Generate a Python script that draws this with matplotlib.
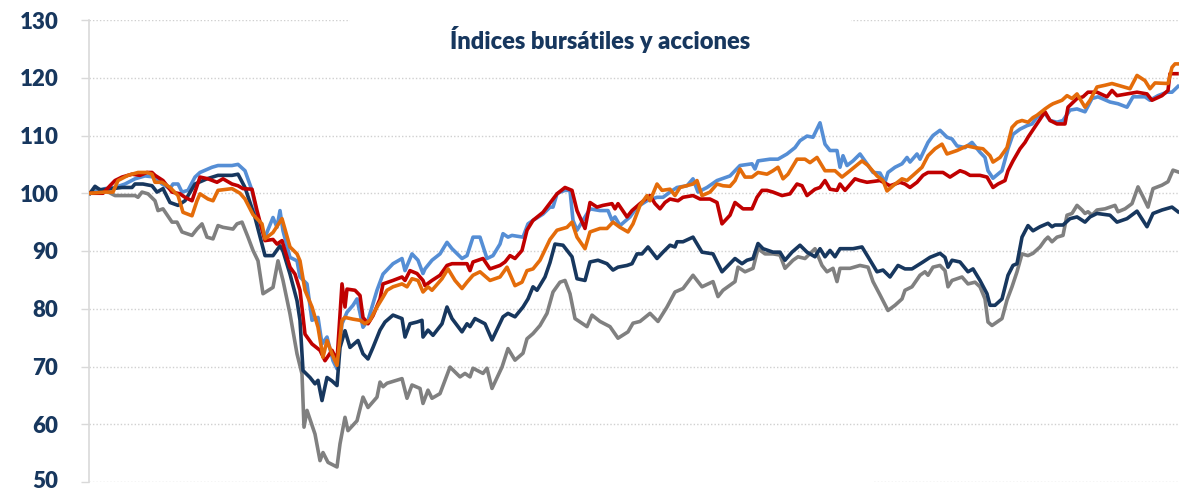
import matplotlib.pyplot as plt
from matplotlib.patches import Rectangle
from matplotlib.transforms import ScaledTranslation

# observation positions (arbitrary time units) and index values (base 100)
x_celeste = [90, 105, 115, 125, 135, 145, 155, 162, 170, 173, 178, 182, 188, 195, 200, 212, 218, 232, 238, 245,
             252, 258, 265, 273, 277, 280, 283, 290, 297, 300, 307, 312, 318, 322, 327, 333, 337, 342, 347, 353,
             357, 363, 368, 377, 383, 393, 402, 405, 412, 418, 423, 425, 432, 440, 447, 452, 462, 467, 473, 480,
             487, 493, 500, 503, 508, 512, 523, 528, 533, 543, 550, 553, 557, 560, 565, 570, 573, 577, 583, 590,
             600, 608, 612, 615, 620, 630, 637, 647, 657, 663, 670, 677, 687, 693, 698, 707, 717, 730, 740, 752,
             755, 758, 770, 778, 787, 795, 800, 807, 813, 820, 825, 830, 837, 840, 843, 847, 853, 860, 867, 873,
             880, 885, 888, 895, 902, 907, 910, 917, 920, 928, 933, 940, 947, 952, 957, 965, 972, 980, 985, 988,
             993, 1002, 1008, 1013, 1020, 1027, 1032, 1037, 1045, 1050, 1057, 1063, 1070, 1077, 1085, 1092, 1098,
             1110, 1118, 1127, 1133, 1145, 1150, 1158, 1167, 1172, 1178]
y_celeste = [100, 100.8, 101, 101.6, 102.5, 103, 102.8, 101.6, 100.8, 101.6, 101.6, 100.2, 100.5, 102.8, 103.6,
             104.5, 104.8, 104.8, 105, 103.9, 100.5, 95.5, 92.4, 95.8, 94.1, 97, 93.5, 88.9, 88.3, 85.5, 84.3, 78,
             78.5, 73.9, 75.1, 71, 69.6, 77.4, 79.4, 80.6, 81.7, 76.8, 78, 83.2, 86, 87.8, 88.7, 86.6, 89.5, 88.4,
             86.1, 86.9, 88.4, 89.5, 91.5, 90.4, 88.7, 89.2, 92.4, 92.4, 88.7, 89.2, 91.2, 93, 92.4, 92.7, 92.4,
             94.7, 95.3, 96.4, 97.6, 97.6, 99.9, 100.2, 100.5, 100.5, 95.3, 93.6, 95.3, 97.3, 97, 97, 95.3, 95.9,
             94.4, 95.9, 97.6, 98.7, 99.3, 99.3, 100.2, 101, 101.3, 102.5, 100.2, 101, 102.2, 103, 104.8, 105.1,
             104.2, 105.6, 105.9, 105.9, 106.8, 107.9, 109.1, 109.9, 109.7, 112.2, 108.5, 107.4, 107.4, 104.5,
             106.5, 104.8, 105.6, 106.8, 105.1, 103.6, 103.5, 101.9, 103.6, 104.5, 105.1, 106.2, 105.4, 106.8,
             105.9, 108.8, 110, 110.9, 109.7, 109.4, 108.2, 107.9, 108.8, 107.1, 106.2, 103.9, 102.6, 103.9,
             107.7, 110.2, 111.1, 111.7, 112, 113.2, 113.8, 112.6, 112.3, 112.6, 114.4, 114.6, 114.1, 116.4,
             116.7, 115.8, 115.5, 114.9, 116.7, 116.7, 116.1, 116.9, 117.5, 117.5, 118.5]

x_marino = [90, 95, 100, 112, 122, 132, 135, 143, 152, 157, 163, 170, 178, 185, 195, 207, 218, 232, 238, 245, 255,
            265, 273, 280, 283, 290, 297, 300, 303, 310, 315, 318, 322, 327, 332, 337, 340, 345, 350, 358, 363,
            368, 373, 380, 385, 393, 402, 405, 410, 417, 422, 423, 428, 433, 442, 447, 452, 462, 467, 470, 475,
            485, 492, 503, 508, 515, 523, 528, 533, 537, 545, 550, 555, 563, 572, 577, 585, 590, 598, 607, 613,
            618, 627, 632, 637, 642, 648, 657, 663, 670, 675, 677, 683, 693, 702, 713, 722, 735, 742, 747, 753,
            758, 763, 773, 780, 785, 792, 800, 807, 815, 820, 825, 830, 835, 840, 853, 862, 868, 877, 883, 890,
            898, 905, 912, 923, 930, 940, 945, 948, 952, 960, 968, 973, 980, 987, 990, 995, 1002, 1008, 1013,
            1017, 1022, 1028, 1033, 1040, 1048, 1052, 1055, 1063, 1070, 1077, 1085, 1090, 1097, 1110, 1117, 1127,
            1137, 1147, 1153, 1162, 1172, 1178]
y_marino = [100, 101.2, 100.6, 100.8, 101, 101, 101.6, 101.6, 101.3, 100.2, 100.8, 98.4, 97.9, 98.7, 101.6, 102.5,
            103.1, 103.1, 103.3, 101, 95.8, 89.2, 89.2, 90.9, 90, 86, 81.4, 78, 69.3, 68.1, 67, 67.6, 64.1, 68.1,
            67.5, 66.7, 73.3, 76.2, 73.3, 74.5, 72.2, 71.3, 73.3, 76.3, 77.7, 78.9, 78.3, 75.1, 77.4, 77.7, 78,
            75.1, 76.3, 75.4, 77.4, 80.3, 78.3, 76, 77.4, 76.9, 78.3, 77.4, 74.6, 78.6, 79.2, 78.6, 80.3, 81.7,
            83.8, 83.2, 85.5, 88, 91.2, 91, 89, 85.2, 84.9, 88.1, 88.4, 87.8, 86.7, 87.2, 87.5, 87.8, 89.5, 89.5,
            90.7, 88.7, 89.8, 91, 90.7, 91.6, 91.6, 92.4, 89.8, 89.5, 86.4, 88.7, 87.8, 88.4, 88.7, 91.3, 90.4,
            89.8, 89.8, 88.4, 89.8, 91, 89.8, 89, 90.4, 89, 90.1, 89, 90.4, 90.4, 90.7, 89, 86.4, 86.7, 85.5, 87.5,
            86.9, 86.9, 88.1, 88.9, 89.6, 88.9, 87.2, 88.4, 88.1, 86.4, 86.9, 84.9, 82.6, 80.6, 80.6, 81.7, 85.8,
            87.5, 87.8, 92.4, 94.4, 93.5, 94.2, 94.8, 94.2, 94.5, 94.5, 95.6, 95.9, 95, 95.9, 96.5, 96.2, 95, 95.6,
            96.9, 94.2, 96.5, 97.1, 97.6, 96.8]

x_rojo = [90, 103, 110, 115, 122, 132, 140, 147, 152, 155, 163, 172, 180, 185, 192, 200, 208, 217, 223, 232, 238,
          243, 252, 257, 265, 273, 277, 282, 290, 295, 300, 305, 312, 320, 325, 332, 337, 340, 342, 345, 347, 355,
          360, 363, 368, 373, 380, 383, 393, 402, 405, 410, 417, 423, 425, 432, 440, 447, 452, 467, 470, 473, 483,
          490, 500, 505, 510, 515, 522, 527, 533, 543, 550, 557, 565, 572, 577, 585, 590, 597, 603, 612, 615, 618,
          627, 632, 640, 650, 655, 660, 665, 670, 678, 683, 693, 700, 710, 717, 722, 730, 735, 743, 752, 757, 762,
          767, 773, 782, 790, 797, 802, 807, 815, 820, 825, 830, 837, 840, 845, 855, 860, 867, 880, 890, 900, 905,
          910, 917, 923, 928, 935, 943, 950, 960, 965, 970, 980, 987, 993, 998, 1005, 1008, 1013, 1020, 1025,
          1028, 1033, 1038, 1045, 1050, 1057, 1065, 1068, 1077, 1083, 1088, 1097, 1107, 1112, 1117, 1127, 1137,
          1147, 1152, 1162, 1168, 1170, 1177]
y_rojo = [100, 100, 101.3, 102.2, 102.8, 103.3, 103.1, 103.6, 103.6, 103.1, 102.2, 100.2, 99.9, 99.3, 98.7, 102.8,
          102.5, 101.9, 102.5, 101.6, 101.3, 100.8, 100.7, 97, 91.8, 92, 91.2, 91.8, 87.2, 86, 83.2, 75.6, 73.9,
          72.8, 71, 72.8, 71, 79.1, 84.3, 80.3, 83.4, 83.2, 82.3, 78.5, 77.4, 78.8, 81.7, 84.3, 84.9, 85.5, 84.9,
          86.6, 86.1, 84.9, 84, 84.9, 85.8, 87.5, 87.8, 87.8, 86.6, 88.1, 88.7, 86.9, 87.5, 88.1, 89.2, 88.7, 90.1,
          93.6, 95.3, 96.7, 98.3, 99.9, 101, 100.5, 97, 93.9, 98.4, 97.6, 97.9, 98.2, 97.3, 98.2, 95.9, 97, 98.2,
          99.6, 98.2, 97.3, 98.4, 99, 98.7, 99.3, 99.6, 99, 99, 98.4, 94.7, 96.2, 98.4, 97.3, 97.3, 99.3, 100.5,
          100.5, 100.2, 99.6, 99.9, 101.6, 101.3, 99.6, 100.7, 101, 102.2, 100.7, 100.5, 101.6, 100.5, 102.5,
          102.2, 101.9, 102.2, 101.3, 101.9, 101.6, 101, 101.9, 103.1, 103.6, 103.6, 103.6, 102.8, 103.9, 103.6,
          103.1, 103.1, 102.8, 101, 101.6, 102.2, 103.9, 105.6, 107.7, 108.8, 109.7, 111, 112.3, 114.1, 112.6,
          112, 112, 114.9, 116.4, 116.7, 117.5, 117.5, 116.7, 117.8, 116.9, 117.2, 117.5, 117.2, 116.1, 116.9,
          117.8, 120.7, 120.7]

x_naranja = [90, 105, 113, 118, 128, 138, 147, 152, 155, 162, 170, 178, 183, 192, 197, 200, 208, 213, 218, 232,
             240, 245, 253, 262, 265, 273, 282, 290, 297, 300, 305, 312, 318, 323, 327, 332, 337, 342, 345, 353,
             360, 365, 370, 377, 383, 387, 393, 402, 407, 412, 418, 423, 428, 432, 442, 448, 455, 462, 467, 473,
             480, 490, 500, 507, 515, 522, 527, 533, 540, 550, 557, 567, 572, 577, 585, 590, 600, 607, 613, 620,
             628, 633, 640, 647, 650, 657, 662, 670, 675, 680, 693, 697, 702, 710, 717, 723, 730, 735, 740, 745,
             752, 758, 767, 773, 778, 783, 788, 797, 805, 810, 817, 825, 835, 842, 850, 862, 868, 877, 883, 887,
             893, 902, 907, 913, 922, 928, 935, 942, 947, 957, 967, 975, 983, 990, 993, 1000, 1007, 1012, 1017,
             1022, 1028, 1033, 1037, 1045, 1050, 1053, 1062, 1067, 1072, 1077, 1085, 1090, 1097, 1105, 1112, 1118,
             1130, 1137, 1145, 1150, 1155, 1168, 1172, 1175, 1178]
y_naranja = [100, 100.2, 100.2, 102.2, 103.1, 103.6, 103.6, 103.3, 101.9, 101.9, 101, 99.6, 96.7, 96.1, 98.7,
             99.9, 99, 98.7, 100.5, 100.8, 100, 99, 96.3, 94.7, 92.1, 93.2, 95.6, 90.7, 89.5, 88.3, 83.2, 80.3,
             76.8, 71.6, 74.5, 72.2, 70.2, 78, 78.5, 78.2, 78, 77.4, 78, 80.3, 82, 83.2, 83.8, 84.3, 83.8, 85.2,
             84.9, 82.9, 83.8, 83.2, 85.2, 86.9, 84.9, 83.5, 84.6, 85.8, 86.4, 84.9, 85.5, 87.2, 84, 84.6, 86.6,
             86.9, 88.4, 92, 93.6, 94.1, 95, 92.4, 90.4, 93.3, 93.9, 93.9, 95, 94.1, 93.3, 94.7, 97.9, 99.6, 98.7,
             101.6, 100.5, 100.7, 99.6, 101, 101.6, 102.2, 99.6, 100.2, 101.6, 101.3, 101.2, 102.2, 104.2, 102.8,
             102.8, 103.6, 103.3, 103.9, 104.5, 102.5, 103.3, 105.9, 105.9, 105.3, 106.2, 103.9, 103.9, 102.8,
             103.9, 105.6, 104.8, 103, 102.2, 100.4, 101.3, 102.5, 102.2, 103.1, 104.5, 106.5, 107.7, 108.5, 106.8,
             107.4, 108.2, 107.9, 107.7, 106.5, 105.4, 106.2, 107.9, 111.4, 112.3, 112.6, 112.3, 113.1, 113.5,
             114.6, 115.2, 115.5, 116.1, 116.9, 116.4, 117.2, 114.9, 116.1, 118.4, 118.7, 119, 118.7, 118.1, 120.4,
             119.5, 118.1, 119.1, 119, 121.8, 122.4, 122.4]

x_gris = [90, 95, 105, 115, 125, 135, 138, 142, 148, 155, 158, 163, 172, 177, 182, 192, 197, 202, 207, 213, 218,
          223, 233, 237, 242, 248, 253, 258, 263, 273, 278, 283, 290, 297, 302, 304, 307, 315, 320, 323, 328, 337,
          340, 345, 348, 357, 363, 368, 377, 380, 383, 387, 402, 407, 412, 420, 423, 428, 432, 440, 450, 460, 465,
          470, 473, 483, 487, 492, 502, 508, 515, 523, 527, 533, 540, 547, 553, 560, 565, 570, 575, 587, 592, 600,
          610, 618, 628, 633, 640, 650, 658, 667, 675, 683, 693, 702, 713, 718, 723, 735, 738, 745, 753, 758, 765,
          773, 780, 785, 793, 798, 805, 815, 822, 827, 833, 837, 840, 850, 860, 868, 873, 880, 888, 895, 902, 905,
          912, 920, 925, 928, 933, 940, 945, 948, 952, 962, 968, 975, 980, 985, 988, 992, 1002, 1007, 1012, 1017,
          1022, 1028, 1033, 1040, 1045, 1048, 1052, 1057, 1063, 1067, 1072, 1077, 1082, 1085, 1088, 1092, 1097,
          1105, 1115, 1118, 1125, 1132, 1138, 1143, 1148, 1153, 1162, 1168, 1173, 1178]
y_gris = [100, 100.8, 100.5, 99.6, 99.6, 99.6, 99.3, 100.2, 99.9, 98.7, 97, 97.3, 95, 95, 93.3, 92.7, 93.8, 94.7,
          92.4, 92.1, 94.4, 94.1, 93.8, 94.7, 95, 92.4, 90.1, 88.3, 82.6, 83.7, 88.3, 84.9, 79.1, 72.2, 68.7, 59.5,
          62.4, 58.3, 53.7, 55.1, 53.4, 52.6, 56.6, 61.2, 58.9, 60.6, 64.7, 62.9, 64.7, 67.3, 66.5, 67.1, 67.9,
          64.5, 66.8, 66.2, 63.6, 65.9, 64.5, 65.3, 69.9, 68.2, 68.8, 68.2, 69.7, 68.8, 69.7, 66.2, 69.9, 73.1,
          71.1, 72.3, 74.8, 75.7, 77.1, 79.2, 82.9, 84.6, 84.9, 82.6, 78.3, 76.9, 78.9, 77.8, 76.9, 74.9, 76,
          77.5, 77.8, 79.2, 77.8, 80.3, 82.9, 83.5, 85.8, 83.8, 84.7, 82.1, 83.2, 84.7, 87.2, 86.4, 87, 90.4,
          89.5, 89.5, 89.3, 87, 88.4, 89, 88.7, 90.4, 87.5, 86.4, 87, 84.7, 87, 87, 87.5, 87.2, 84.7, 82.4, 79.7,
          80.6, 81.7, 83.2, 83.8, 85.8, 86.4, 85.8, 87.2, 87.5, 86.6, 83.8, 84.9, 85.5, 84.3, 84.6, 83.8, 81.7,
          77.7, 77.1, 78.3, 81.5, 83.8, 86.4, 89.5, 89.2, 89.6, 90.7, 91.9, 92.4, 91.6, 92.4, 92.7, 96.2, 96.5,
          97.9, 97.1, 96.5, 96.8, 96.2, 97.1, 97.3, 97.9, 96.8, 97.3, 98.2, 101.1, 99.4, 97.6, 100.8, 101.4, 102,
          104, 103.7]

y_ticks = [50, 60, 70, 80, 90, 100, 110, 120, 130]
titulo = "Índices bursátiles y acciones"

azul_oscuro = '#17375E'

fig = plt.figure(figsize=(11.83, 4.91), dpi=100)
ax = fig.add_axes([89 / 1183, 9 / 491, 1090 / 1183, 462 / 491])

series = [
    (x_gris, y_gris, '#808080'),
    (x_celeste, y_celeste, '#558ED5'),
    (x_marino, y_marino, azul_oscuro),
    (x_rojo, y_rojo, '#C00000'),
    (x_naranja, y_naranja, '#E46C0A'),
]
for xs, ys, color in series:
    ax.plot(xs, ys, color=color, linewidth=2.6, solid_joinstyle='round', zorder=3)

ax.set_xlim(89, 1179)
ax.set_ylim(50, 130)
ax.set_yticks(y_ticks)
ax.set_xticks([])

ax.set_axisbelow(True)
ax.grid(axis='y', color='#D0D0D0', linestyle=(0, (1, 1.5)), linewidth=1)

for side in ['top', 'right', 'bottom']:
    ax.spines[side].set_visible(False)
ax.spines['left'].set_color('#D9D9D9')
ax.spines['left'].set_linewidth(1.2)

ax.tick_params(axis='y', length=6, width=1, color='#D9D9D9', pad=16, labelsize=16,
               labelcolor=azul_oscuro)
for lab in ax.get_yticklabels():
    lab.set_fontfamily('Lato')
    lab.set_fontweight('heavy')
# the lowest label sits right at the bottom edge; nudge it up a couple of pixels
bottom_lab = ax.get_yticklabels()[0]
bottom_lab.set_transform(bottom_lab.get_transform() + ScaledTranslation(0, 2 / 100, fig.dpi_scale_trans))

# blank areas behind title and an empty legend box
ax.add_patch(Rectangle((0.239, 0.93), 0.46, 0.09, transform=ax.transAxes, facecolor='white',
                       edgecolor='none', zorder=1, clip_on=False))
ax.add_patch(Rectangle((0.218, -0.02), 0.501, 0.04, transform=ax.transAxes, facecolor='white',
                       edgecolor='none', zorder=1, clip_on=False))

ax.text(0.469, 0.958, titulo, transform=ax.transAxes, ha='center', va='center', fontsize=17,
        fontweight='heavy', family='Lato', color=azul_oscuro, zorder=4)

fig.savefig('out.png', dpi=100)
